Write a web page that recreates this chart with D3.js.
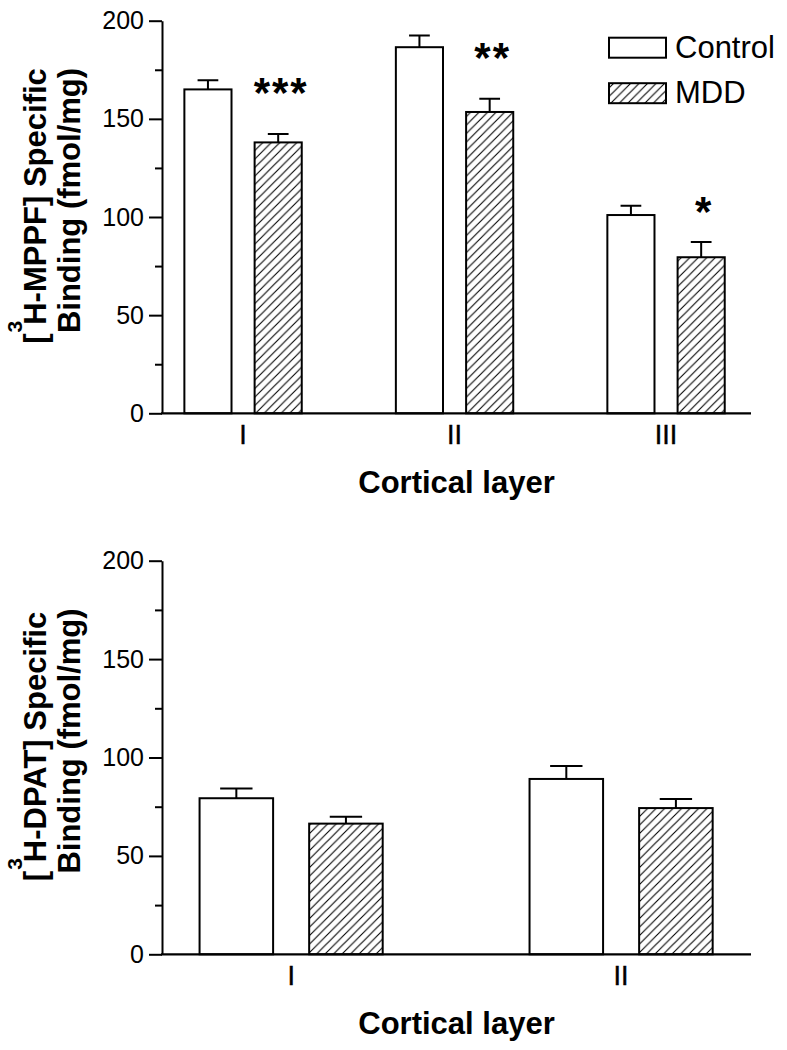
<!DOCTYPE html>
<html>
<head>
<meta charset="utf-8">
<script src="https://cdn.jsdelivr.net/npm/d3@7"></script>
<style>
  html, body { margin: 0; padding: 0; background: #fff; }
  svg { display: block; }
  text { font-family: "Liberation Sans", Arial, Helvetica, sans-serif; fill: #000; }
</style>
</head>
<body>
<svg id="chart" width="787" height="1050"></svg>
<script>
// ---------- DATA ----------
const seriesNames = ["Control", "MDD"];

const topCategories = ["I", "II", "III"];
const topControl = [165, 186.5, 101];
const topControlErr = [4.7, 6, 4.7];
const topMDD = [138, 153.5, 79.5];
const topMDDErr = [4.3, 6.8, 7.8];
const topSigLabels = ["***", "**", "*"];
const topSigY = [168.9, 186.6, 108.1];
const topTitle = ["H-MPPF] Specific", "Binding (fmol/mg)"];

const bottomCategories = ["I", "II"];
const bottomControl = [79.3, 89.1];
const bottomControlErr = [5, 6.6];
const bottomMDD = [66.4, 74.3];
const bottomMDDErr = [3.5, 4.6];
const bottomTitle = ["H-DPAT] Specific", "Binding (fmol/mg)"];

const yMajorTicks = [0, 50, 100, 150, 200];
const yMinorTicks = [25, 75, 125, 175];
const xTitle = "Cortical layer";

// ---------- DRAWING ----------
const svg = d3.select("#chart");
const defs = svg.append("defs");
const pat = defs.append("pattern")
  .attr("id", "hatch")
  .attr("patternUnits", "userSpaceOnUse")
  .attr("width", 8.5).attr("height", 8.5);
pat.append("rect").attr("width", 8.5).attr("height", 8.5).attr("fill", "#fff");
pat.append("path")
  .attr("d", "M-2,2 L2,-2 M0,8.5 L8.5,0 M6.5,10.5 L10.5,6.5")
  .attr("stroke", "#000").attr("stroke-width", 1.1);

const X0 = 162, X1 = 751;

function drawPanel(cfg) {
  const g = svg.append("g");
  const y = d3.scaleLinear().domain([0, 200]).range([cfg.yBottom, cfg.yTop]);
  const x = d3.scaleBand().domain(cfg.categories).range([X0, X1])
    .paddingInner(0.445).paddingOuter(0.115).align(cfg.align);
  const xs = d3.scaleBand().domain(seriesNames).range([0, x.bandwidth()])
    .paddingInner(0.329).paddingOuter(0);

  // minor ticks
  g.append("g")
    .attr("transform", `translate(${X0},0)`)
    .call(d3.axisLeft(y).tickValues(yMinorTicks).tickSize(7).tickFormat(""))
    .call(s => s.select(".domain").remove())
    .call(s => s.selectAll("line").attr("stroke", "#000").attr("stroke-width", 2));

  // major axis
  g.append("g")
    .attr("transform", `translate(${X0},0)`)
    .call(d3.axisLeft(y).tickValues(yMajorTicks).tickSize(13).tickSizeOuter(0).tickPadding(5))
    .call(s => s.select(".domain").attr("stroke", "#000").attr("stroke-width", 2))
    .call(s => s.selectAll("line").attr("stroke", "#000").attr("stroke-width", 2))
    .call(s => s.selectAll("text")
      .style("font-family", '"Liberation Sans", Arial, sans-serif')
      .attr("font-size", 25).attr("fill", "#000"));

  // bars
  const rows = cfg.categories.map((c, i) => ({
    cat: c,
    vals: [
      { s: "Control", v: cfg.control[i], e: cfg.controlErr[i] },
      { s: "MDD", v: cfg.mdd[i], e: cfg.mddErr[i] }
    ]
  }));
  const grp = g.selectAll("g.grp").data(rows).join("g")
    .attr("class", "grp")
    .attr("transform", d => `translate(${x(d.cat)},0)`);

  const bw = xs.bandwidth();
  const capHalf = bw * 0.22;
  grp.selectAll("path.err").data(d => d.vals).join("path")
    .attr("class", "err")
    .attr("fill", "none").attr("stroke", "#000").attr("stroke-width", 2)
    .attr("d", d => {
      const cx = xs(d.s) + bw / 2;
      return `M${cx},${y(d.v)}V${y(d.v + d.e)}M${cx - capHalf},${y(d.v + d.e)}H${cx + capHalf}`;
    });

  grp.selectAll("rect.bar").data(d => d.vals).join("rect")
    .attr("class", "bar")
    .attr("x", d => xs(d.s))
    .attr("width", bw)
    .attr("y", d => y(d.v))
    .attr("height", d => y(0) - y(d.v))
    .attr("fill", d => d.s === "MDD" ? "url(#hatch)" : "#fff")
    .attr("stroke", "#000").attr("stroke-width", 2);

  // x axis line
  g.append("line")
    .attr("x1", X0 - 1).attr("x2", X1)
    .attr("y1", y(0)).attr("y2", y(0))
    .attr("stroke", "#000").attr("stroke-width", 2.2);

  // category labels
  g.selectAll("text.cat").data(cfg.categories).join("text")
    .attr("class", "cat")
    .attr("x", d => x(d) + x.bandwidth() / 2)
    .attr("y", y(0) + 31)
    .attr("text-anchor", "middle")
    .attr("font-size", 27)
    .attr("stroke", "#000").attr("stroke-width", 0.4)
    .text(d => d);

  // x title
  g.append("text")
    .attr("x", (X0 + X1) / 2)
    .attr("y", y(0) + 80)
    .attr("text-anchor", "middle")
    .attr("font-size", 31).attr("font-weight", "bold")
    .text(xTitle);

  // y title
  const mid = (cfg.yTop + cfg.yBottom) / 2;
  const t1 = g.append("text")
    .attr("transform", `translate(46,${mid - 11}) rotate(-90)`)
    .attr("text-anchor", "middle")
    .attr("font-size", 31).attr("font-weight", "bold");
  t1.append("tspan").text("[");
  t1.append("tspan").attr("font-size", 21).attr("dy", -24).attr("dx", 1).text("3");
  t1.append("tspan").attr("dy", 24).attr("dx", -4).text(cfg.title[0]);
  g.append("text")
    .attr("transform", `translate(80,${mid - 16.5}) rotate(-90)`)
    .attr("text-anchor", "middle")
    .attr("font-size", 31).attr("font-weight", "bold")
    .text(cfg.title[1]);

  // significance stars
  if (cfg.sig) {
    g.selectAll("text.sig").data(cfg.categories).join("text")
      .attr("class", "sig")
      .attr("x", d => x(d) + xs("MDD") + bw / 2 + 3)
      .attr("y", (d, i) => y(cfg.sigY[i]))
      .attr("dy", "0.6em")
      .attr("text-anchor", "middle")
      .attr("font-size", 42).attr("font-weight", "bold")
      .attr("letter-spacing", 2)
      .text((d, i) => cfg.sig[i]);
  }

  // legend
  if (cfg.legend) {
    const lg = g.append("g");
    seriesNames.forEach((s, i) => {
      const ly = 37.7 + i * 45.5;
      lg.append("rect")
        .attr("x", 609).attr("y", ly).attr("width", 57).attr("height", 20)
        .attr("fill", s === "MDD" ? "url(#hatch)" : "#fff")
        .attr("stroke", "#000").attr("stroke-width", 2);
      lg.append("text")
        .attr("x", 675).attr("y", ly + 20)
        .attr("font-size", 31)
        .text(s);
    });
  }
}

drawPanel({
  categories: topCategories,
  control: topControl, controlErr: topControlErr,
  mdd: topMDD, mddErr: topMDDErr,
  sig: topSigLabels, sigY: topSigY,
  title: topTitle,
  yTop: 20.7, yBottom: 413.3,
  align: 0.46, legend: true
});

drawPanel({
  categories: bottomCategories,
  control: bottomControl, controlErr: bottomControlErr,
  mdd: bottomMDD, mddErr: bottomMDDErr,
  title: bottomTitle,
  yTop: 560.7, yBottom: 954.3,
  align: 0.495, legend: false
});
</script>
</body>
</html>
